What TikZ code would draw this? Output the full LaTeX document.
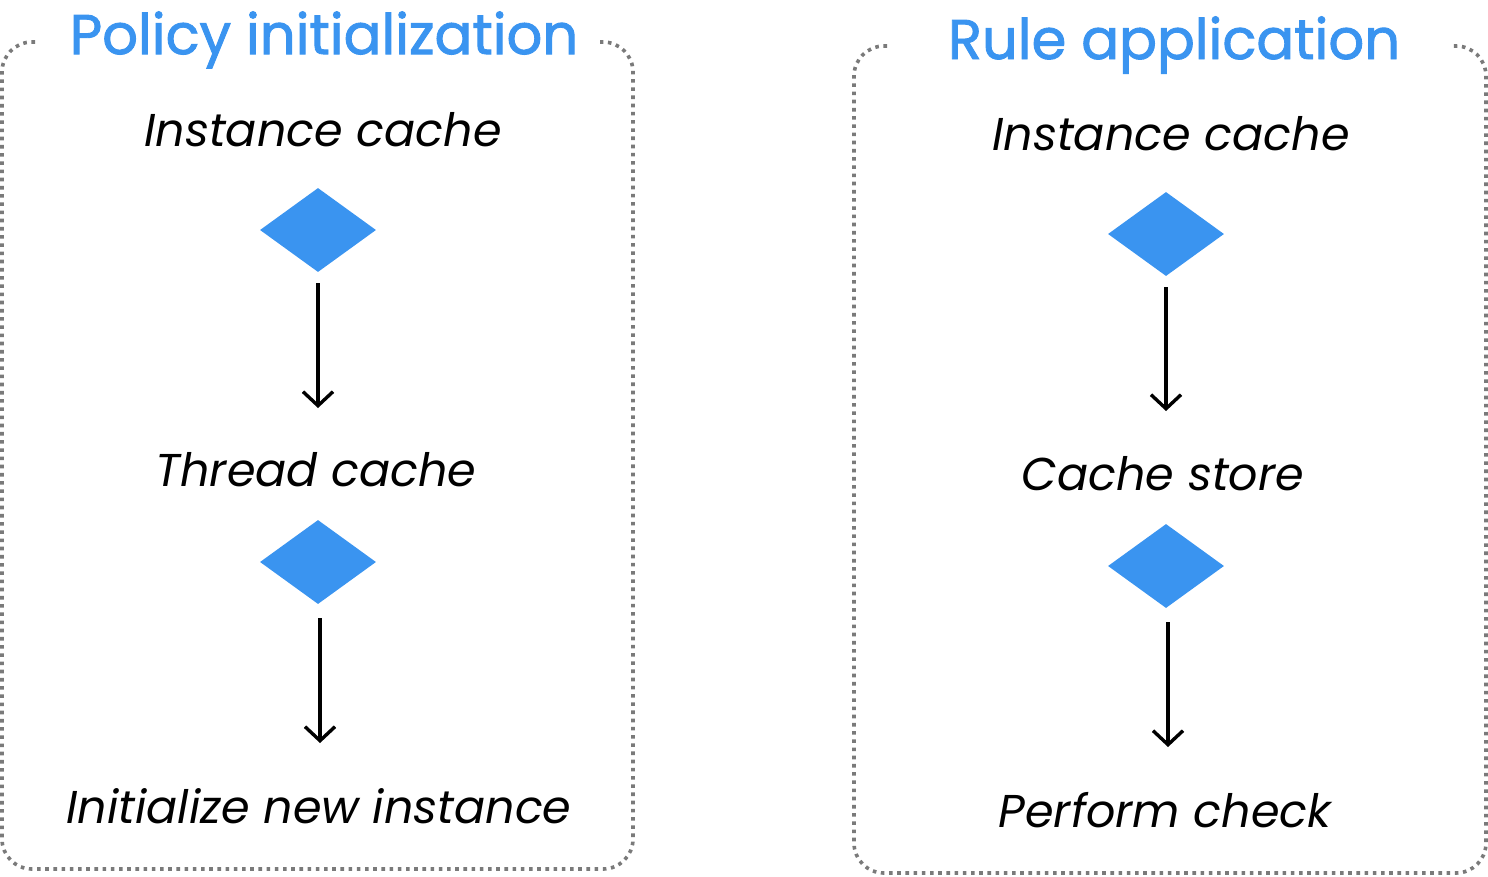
\documentclass[tikz,border=0pt]{standalone}
\usepackage{fontspec}
\setmainfont{Poppins}
\newfontfamily\titlefont[FakeBold=1.6]{Poppins}
\usetikzlibrary{shapes.geometric,arrows.meta}
\definecolor{accent}{HTML}{3A94F0}
\definecolor{dotgray}{HTML}{7A7A7A}
\tikzset{
  frame/.style={draw=dotgray, line width=3.6pt, dash pattern=on 3.6pt off 4.6pt, rounded corners=30pt},
  title/.style={text=accent, font=\titlefont\fontsize{56}{60}\selectfont, inner sep=0pt},
  label/.style={font=\itshape\fontsize{46}{50}\selectfont, inner sep=0pt},
  gem/.style={diamond, fill=accent, minimum width=116pt, minimum height=84pt, inner sep=0pt, aspect=1.38},
  flow/.style={line width=3.4pt, -{Straight Barb[length=14pt,width=30pt,line width=3.4pt]}},
}
\begin{document}
\begin{tikzpicture}[x=1pt,y=-1pt]
\useasboundingbox (0,0) rectangle (1488,876);
% frames
\draw[frame] (35,42) -- (2,42) -- (2,869) -- (633,869) -- (633,42) -- (600,42);
\draw[frame] (887,46) -- (854,46) -- (854,873) -- (1486,873) -- (1486,46) -- (1452,46);
\node[title] (t1) at (324,40) {Policy initialization};
\node[title] (t2) at (1174,45) {Rule application};
% left column
\node[label] (l1) at (323,130) {Instance cache};
\node[gem] (d1) at (318,230) {};
\coordinate (a1s) at (318,283);
\coordinate (a1e) at (318,408);
\node[label] (l2) at (316,470) {Thread cache};
\node[gem] (d2) at (318,562) {};
\coordinate (a2s) at (320,618);
\coordinate (a2e) at (320,743);
\node[label] (l3) at (319,806) {Initialize new instance};
\draw[flow] (a1s) -- (a1e);
\draw[flow] (a2s) -- (a2e);
% right column
\node[label] (r1) at (1171,134) {Instance cache};
\node[gem] (e1) at (1166,234) {};
\coordinate (b1s) at (1166,287);
\coordinate (b1e) at (1166,411);
\node[label] (r2) at (1163,474) {Cache store};
\node[gem] (e2) at (1166,566) {};
\coordinate (b2s) at (1168,622);
\coordinate (b2e) at (1168,747);
\node[label] (r3) at (1165,810) {Perform check};
\draw[flow] (b1s) -- (b1e);
\draw[flow] (b2s) -- (b2e);
\end{tikzpicture}
\end{document}
